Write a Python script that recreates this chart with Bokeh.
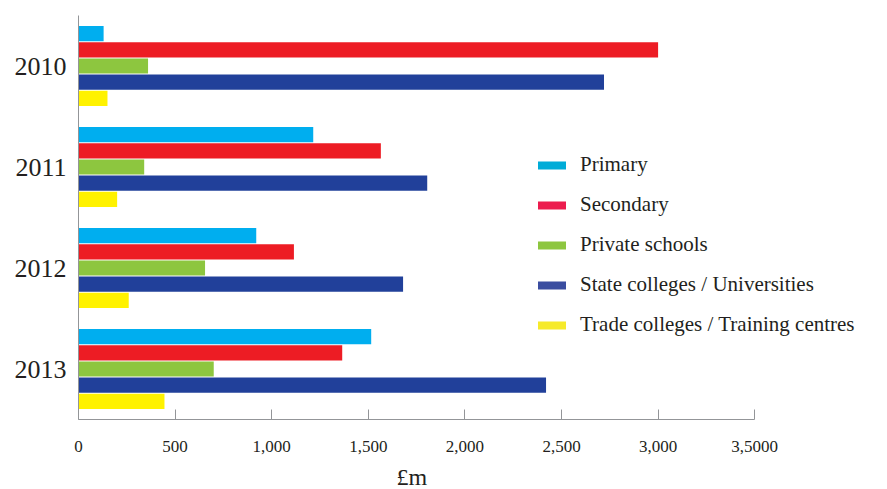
import numpy as np
from bokeh.plotting import figure
from bokeh.models import (ColumnDataSource, FactorRange, Range1d, FixedTicker, Legend,
                          LegendItem, Title)
from bokeh.transform import dodge
from bokeh.embed import file_html
from bokeh.resources import INLINE

years = ["2010", "2011", "2012", "2013"]
series_names = ["Primary", "Secondary", "Private schools",
                "State colleges / Universities", "Trade colleges / Training centres"]
primary = [130, 1215, 920, 1515]
secondary = [3000, 1565, 1115, 1365]
private_schools = [360, 340, 655, 700]
state_colleges = [2720, 1805, 1680, 2420]
trade_colleges = [150, 200, 260, 445]
tick_values = [0, 500, 1000, 1500, 2000, 2500, 3000, 3500]
tick_labels = ["0", "500", "1,000", "1,500", "2,000", "2,500", "3,000", "3,5000"]
x_title = "£m"

bar_colors = ["#00AEEF", "#ED1C24", "#8DC63F", "#21409A", "#FFF200"]
legend_colors = ["#00ACD8", "#EC1C4E", "#8DC63F", "#3A4DA0", "#F6EA2A"]
offsets = [0.32, 0.16, 0.0, -0.16, -0.32]
fields = ["primary", "secondary", "private_schools", "state_colleges", "trade_colleges"]

source = ColumnDataSource(dict(year=years, primary=primary, secondary=secondary,
                               private_schools=private_schools,
                               state_colleges=state_colleges,
                               trade_colleges=trade_colleges))

FONT = "Liberation Serif"
TEXT = "#231f20"
GRAY = "#939598"

p = figure(width=887, height=489, output_backend="svg", toolbar_location=None,
           y_range=FactorRange(factors=years[::-1], range_padding=0),
           x_range=Range1d(0, 802 / 0.1932),
           min_border_left=78, min_border_right=7, min_border_top=15, min_border_bottom=69)

p.outline_line_color = None
p.xgrid.visible = False
p.ygrid.visible = False
p.background_fill_color = "white"
p.border_fill_color = "white"

for f, off, col in zip(fields, offsets, bar_colors):
    p.hbar(y=dodge("year", off, range=p.y_range), left=0, right=f, height=0.15,
           source=source, fill_color=col, line_color=None)

items = []
for name, col in zip(series_names, legend_colors):
    r = p.line(x=np.array([np.nan]), y=[years[0]], line_color=col, line_width=8,
               line_cap="round")
    items.append(LegendItem(label=name, renderers=[r]))

legend = Legend(items=items, location=(460, 82), orientation="vertical",
                glyph_width=28, glyph_height=24, label_height=24, label_standoff=14,
                spacing=15, padding=0, margin=0,
                label_text_font=FONT, label_text_font_size="21px", label_text_color=TEXT,
                border_line_color=None, background_fill_alpha=0)
p.add_layout(legend)

xa = p.xaxis[0]
xa.bounds = (0, 3500)
xa.ticker = FixedTicker(ticks=tick_values)
xa.major_label_overrides = {v: t for v, t in zip(tick_values, tick_labels)}
xa.axis_line_color = GRAY
xa.major_tick_line_color = GRAY
xa.major_tick_in = 10
xa.major_tick_out = 0
xa.minor_tick_line_color = None
xa.major_label_standoff = 21
xa.major_label_text_font = FONT
xa.major_label_text_font_size = "17px"
xa.major_label_text_color = TEXT

p.add_layout(Title(text=x_title, align="left", offset=318, standoff=0,
                   padding=dict(top=7, bottom=0, left=0, right=0),
                   text_font=FONT, text_font_size="24px", text_font_style="normal",
                   text_color=TEXT), "below")

ya = p.yaxis[0]
ya.axis_line_color = GRAY
ya.major_tick_in = 0
ya.major_tick_out = 0
ya.major_tick_line_color = None
ya.minor_tick_line_color = None
ya.major_label_standoff = 12
ya.major_label_text_font = FONT
ya.major_label_text_font_size = "26px"
ya.major_label_text_color = TEXT

open("out.html", "w").write(file_html(p, INLINE))
